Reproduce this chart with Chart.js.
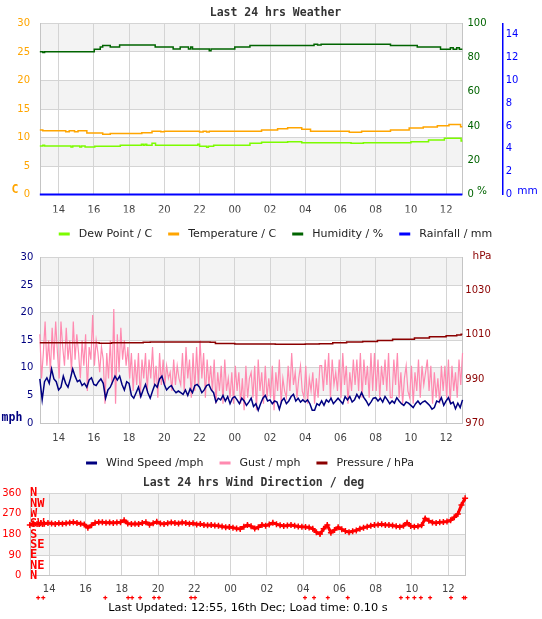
<!DOCTYPE html>
<html>
<head>
<meta charset="utf-8">
<title>Last 24 hrs Weather</title>
<script src="https://cdn.jsdelivr.net/npm/chart.js@4.4.1/dist/chart.umd.min.js"></script>
<style>
  html, body { margin: 0; padding: 0; background: #fff; }
  #page { position: relative; width: 542px; height: 619px; overflow: hidden; }
  canvas { position: absolute; left: 0; }
  #footer { position: absolute; top: 600px; left: 0; width: 496px; text-align: center;
            font: 11.3px "DejaVu Sans", sans-serif; color: #000; line-height: 16px; }
</style>
</head>
<body>
<div id="page">
  <canvas id="weatherChart" width="542" height="250" style="top:0"></canvas>
  <canvas id="windChart" width="542" height="234" style="top:245px"></canvas>
  <canvas id="dirChart" width="542" height="130" style="top:470px"></canvas>
  <div id="footer">Last Updated: 12:55, 16th Dec; Load time: 0.10 s</div>
</div>
<script>
// Times are hours from 00:00 on the 15th (24+ means the 16th)
const hourTicks = [14, 16, 18, 20, 22, 24, 26, 28, 30, 32, 34, 36];
const pressureTicks = [970, 990, 1010, 1030];
const compassLabels = ['N', 'NE', 'E', 'SE', 'S', 'SW', 'W', 'NW', 'N'];

// [time, value] - each value holds until the next point
const dewPoint = [[12.93,8.5],[13.1,8.63],[13.2,8.5],[14.7,8.33],[14.8,8.5],[15.2,8.33],[15.3,8.5],[15.5,8.33],
  [16.05,8.45],[17.5,8.63],[18.7,8.8],[18.8,8.63],[18.9,8.8],[19.0,8.63],[19.3,9.0],[19.5,8.63],[21.9,8.8],
  [22.0,8.45],[22.4,8.3],[22.5,8.45],[22.8,8.63],[24.86,9.0],[25.52,9.15],[27.0,9.26],[27.8,9.1],[30.6,9.0],
  [31.3,9.1],[34.0,9.26],[35.0,9.56],[35.9,9.86],[36.85,9.4],[36.92,9.4]];
const temperature = [[12.93,11.3],[13.1,11.2],[14.4,11.0],[14.6,11.2],[14.9,11.0],[15.1,11.2],[15.6,10.8],
  [16.5,10.55],[16.93,10.7],[18.72,10.85],[19.3,11.1],[19.8,11.0],[20.0,11.1],[22.0,10.95],[22.2,11.1],
  [22.4,10.95],[22.55,11.1],[25.52,11.3],[26.43,11.55],[27.0,11.7],[27.8,11.45],[28.3,11.1],[30.5,10.9],
  [31.2,11.1],[32.84,11.3],[33.9,11.65],[34.7,11.85],[35.5,12.07],[36.16,12.3],[36.82,11.9],[36.92,11.9]];
const humidity = [[12.93,83.5],[13.1,83.0],[13.2,83.5],[16.02,84.9],[16.36,86.3],[16.5,87.2],[16.93,86.3],
  [17.46,87.4],[19.48,86.2],[20.5,85.1],[20.9,86.2],[21.37,85.1],[21.5,86.2],[21.6,85.1],[22.55,84.0],
  [22.65,85.1],[24.0,86.3],[24.86,87.2],[28.5,87.8],[28.7,87.4],[28.9,87.8],[32.84,87.2],[34.36,86.3],
  [35.68,85.0],[36.24,85.8],[36.4,85.0],[36.6,85.8],[36.75,85.0],[36.92,85.0]];
const rainfall = [[12.93,0],[36.92,0]];

// average wind every 8 minutes from 12:56
const windStart = 12.93;
const windStepHrs = 8 / 60;
const windSpeed = [
  8.0,4.2,7.5,8.2,7.2,9.8,8.0,7.5,  6.0,6.5,8.5,7.2,6.5,8.0,9.8,8.5,  7.5,7.8,6.8,7.2,6.5,7.8,8.2,
  7.0,6.8,7.5,8.0,7.2,4.5,6.0,  6.5,7.5,8.5,7.8,8.5,7.0,6.0,7.5,  7.2,5.0,4.5,5.5,6.5,4.8,6.0,
  7.0,5.5,4.5,5.8,7.0,6.5,8.0,8.5,  7.0,6.0,6.5,6.8,6.0,5.5,5.8,  5.5,5.2,6.0,5.0,6.2,5.5,6.8,7.0,
  6.5,5.5,6.0,6.8,7.0,6.0,5.5,  3.8,4.5,4.2,5.0,4.0,4.8,3.5,4.5,  4.8,4.2,3.5,4.5,4.0,3.2,3.8,
  4.5,3.0,3.5,2.3,3.5,4.5,5.0,4.0,  4.2,3.5,4.0,3.8,2.5,4.0,4.5,  3.5,4.0,4.8,5.2,4.0,4.5,3.8,4.2,
  3.8,4.2,3.5,2.3,2.3,3.5,3.2,  4.0,3.2,4.2,3.8,4.5,3.5,4.0,4.5,  4.0,3.5,4.8,4.2,4.8,3.8,4.2,
  5.2,4.5,5.5,4.6,4.0,3.2,3.8,4.5,  4.6,4.0,4.5,3.8,4.8,4.2,3.5,  4.0,3.6,4.6,4.0,3.5,3.2,3.8,3.6,
  3.2,2.8,3.5,4.0,3.4,3.8,4.0,  3.6,3.2,2.5,2.8,4.0,3.8,4.6,3.2,  4.0,4.6,3.5,3.8,2.6,3.6,2.8,4.2];

// gusts every 6 minutes from 12:56 (one row per hour)
const gustStart = 12.93;
const gustStepHrs = 6 / 60;
const gust = [
  16.1,8.1,12.7,18.4,10.4,15.0,9.2,17.3,11.5,18.4,
  12.7,8.1,18.4,13.8,10.4,17.3,11.5,15.0,9.2,18.4,
  11.5,16.1,12.7,8.1,15.0,10.4,16.1,5.8,13.8,11.5,
  19.6,10.4,15.0,12.7,9.2,13.8,11.5,3.5,12.7,8.1,
  15.0,6.9,20.7,3.5,16.1,9.2,17.3,11.5,15.0,10.4,
  13.8,8.1,12.7,5.8,11.5,6.9,12.7,4.6,11.5,8.1,
  12.7,5.8,11.5,8.1,13.8,6.9,10.4,4.6,12.7,6.9,
  11.5,6.9,10.4,8.1,9.2,5.8,11.5,6.9,10.4,8.1,
  6.9,12.7,5.8,13.8,8.1,11.5,4.6,12.7,5.8,13.8,
  6.9,15.0,8.1,12.7,4.6,11.5,6.9,10.4,5.8,11.5,
  3.5,9.2,5.8,10.4,3.5,11.5,5.8,8.1,4.6,9.2,
  3.5,10.4,5.8,9.2,3.5,8.1,2.3,10.4,4.6,8.1,
  9.2,4.6,10.4,2.3,11.5,5.8,9.2,3.5,10.4,4.6,
  8.1,4.6,10.4,2.3,9.2,5.8,11.5,3.5,8.1,5.8,
  4.6,10.4,5.8,12.7,6.9,9.2,4.6,8.1,10.4,5.8,
  4.6,10.4,3.5,8.1,5.8,9.2,3.5,8.1,4.6,10.4,
  10.4,5.8,11.5,6.9,12.7,4.6,11.5,6.9,9.2,5.8,
  11.5,4.6,12.7,6.9,10.4,3.5,9.2,5.8,11.5,6.9,
  11.5,5.8,12.7,4.6,11.5,6.9,10.4,4.6,12.7,5.8,
  12.7,5.8,11.5,4.6,10.4,6.9,11.5,5.8,12.7,4.6,
  4.6,11.5,6.9,12.7,4.6,9.2,3.5,8.1,10.4,5.8,
  4.6,10.4,3.5,9.2,5.8,11.5,4.6,10.4,6.9,9.2,
  11.5,5.8,10.4,3.5,9.2,4.6,8.1,3.5,10.4,5.8,
  10.4,4.6,11.5,3.5,10.4,5.8,9.2,4.6,11.5,6.9,
  12.7];
const pressure = [[12.93,1006.4],[16.3,1006.2],[17.0,1006.4],[18.8,1006.6],[19.2,1006.8],[22.6,1006.6],
  [22.9,1006.1],[24.0,1005.9],[25.5,1005.8],[26.3,1005.7],[28.0,1005.8],[28.8,1006.0],[29.56,1006.4],
  [30.35,1006.7],[31.26,1007.0],[32.1,1007.4],[32.96,1008.0],[34.2,1008.6],[35.05,1009.1],[36.0,1009.6],
  [36.6,1009.9],[36.85,1010.3],[36.92,1010.3]];

// wind direction every 12 minutes from 12:56
const dirStart = 12.93;
const dirStepHrs = 12 / 60;
const windDir = [
  222,228,226,229,227, 230,228,226,229,227, 229,231,233,230,227, 224,210,220,231,233,
  234,231,232,230,232, 233,242,228,226,227, 226,230,233,223,229, 236,228,226,229,232,
  230,228,232,230,227, 229,224,226,221,220, 221,219,218,215,212, 213,210,206,204,214,
  222,216,206,212,222, 218,224,231,225,220, 217,219,221,218,215, 214,213,211,205,190,
  182,205,221,188,200, 212,203,195,190,194, 198,205,210,214,218, 221,223,225,222,221,
  219,216,214,218,231, 217,214,216,220,250, 240,232,230,234,235, 237,242,255,270,309,338];
// calm readings, drawn under the axis
const calmTimes = [13.39,13.67,17.09,18.35,18.57,19.01,19.78,20.05,21.82,22.04,28.1,28.6,29.36,30.46,
  33.39,33.76,34.13,34.49,35.0,36.15,36.85,36.94];
const calmDir = -96;

const FONT = 'DejaVu Sans';
const MONO = 'DejaVu Sans Mono';
const GRID = '#d4d4d4';
const FRAME = '#c4c4c4';
const BAND = '#f3f3f3';
const tickFont = { family: FONT, size: 10 };
const titleFont = { family: MONO, size: 11.5, weight: 'bold' };

Chart.defaults.font.family = FONT;

const pad2 = v => String(v % 24).padStart(2, '0');
const toXY = pts => pts.map(([x, y]) => ({ x, y }));
const onGrid = (start, step, vals) => vals.map((y, i) => ({ x: start + i * step, y }));

// alternate grey bands between the ticks of one axis
const bandsPlugin = {
    id: 'bands',
    beforeDraw(chart, args, opts) {
        const s = chart.scales[opts.axis];
        if (!s) return;
        const a = chart.chartArea, ctx = chart.ctx;
        const vals = s.ticks.map(t => t.value).sort((p, q) => q - p);
        ctx.save();
        ctx.fillStyle = opts.color;
        for (let i = 0; i + 1 < vals.length; i += 2) {
            const y1 = s.getPixelForValue(vals[i]);
            const y2 = s.getPixelForValue(vals[i + 1]);
            ctx.fillRect(a.left, y1, a.right - a.left, y2 - y1);
        }
        ctx.restore();
    }
};

// unit captions beside the axes
const unitsPlugin = {
    id: 'units',
    afterDraw(chart, args, opts) {
        const ctx = chart.ctx;
        ctx.save();
        ctx.textBaseline = 'middle';
        (opts.items || []).forEach(u => {
            ctx.font = u.font;
            ctx.fillStyle = u.color;
            ctx.textAlign = 'center';
            ctx.fillText(u.text, u.x, u.y);
        });
        ctx.restore();
    }
};
Chart.register(bandsPlugin, unitsPlugin);

function timeAxis(min, max, padding, height) {
    return {
        type: 'linear', min, max,
        afterBuildTicks: s => { s.ticks = hourTicks.map(v => ({ value: v })); },
        afterFit: s => { s.height = height; },
        ticks: { callback: pad2, color: '#444', font: tickFont, padding, autoSkip: false, maxRotation: 0 },
        grid: { color: GRID, drawTicks: false },
        border: { color: FRAME }
    };
}

function legendOpts() {
    return {
        position: 'bottom',
        labels: {
            boxWidth: 11, boxHeight: 3, padding: 16, color: '#222', font: { family: FONT, size: 11 },
            generateLabels: chart => Chart.defaults.plugins.legend.labels.generateLabels(chart)
                .map(l => Object.assign(l, { text: ' ' + l.text, lineWidth: 0, fillStyle: l.strokeStyle }))
                .sort((a, b) => a.datasetIndex - b.datasetIndex)
        }
    };
}

function series(label, data, color, axis, extra) {
    return Object.assign({
        label, data, yAxisID: axis,
        borderColor: color, backgroundColor: color,
        borderWidth: 1.5, pointRadius: 0, tension: 0, clip: 3
    }, extra || {});
}

// 1. Temperature / humidity / rain
new Chart(document.getElementById('weatherChart'), {
    type: 'line',
    data: {
        datasets: [
            series('Dew Point / C', toXY(dewPoint), '#7cfc00', 'yT', { stepped: true }),
            series('Temperature / C', toXY(temperature), '#ffa500', 'yT', { stepped: true }),
            series('Humidity / %', toXY(humidity), '#006400', 'yH', { stepped: true }),
            series('Rainfall / mm', toXY(rainfall), '#0000ff', 'yR', { borderWidth: 2 })
        ]
    },
    options: {
        responsive: false, animation: false, events: [],
        layout: { padding: { left: 9, right: 0, top: 0, bottom: 0.5 } },
        scales: {
            x: timeAxis(12.94, 36.9, 9.5, 18),
            yT: {
                position: 'left', min: 0, max: 30,
                ticks: { stepSize: 5, color: '#ffa500', font: tickFont, padding: 10 },
                grid: { color: GRID, drawTicks: false }, border: { color: FRAME },
                afterFit: s => { s.width = 31; }
            },
            yH: {
                position: 'right', min: 0, max: 100,
                ticks: { stepSize: 20, color: '#006400', font: tickFont, padding: 5.5 },
                grid: { drawOnChartArea: false, drawTicks: false }, border: { color: FRAME },
                afterFit: s => { s.width = 40.7; }
            },
            yR: {
                position: 'right', min: 0, max: 15,
                ticks: { stepSize: 2, color: '#0000ff', font: tickFont, padding: 3, callback: v => (v % 2 ? '' : v) },
                grid: { drawOnChartArea: false, drawTicks: false }, border: { color: '#0000ff', width: 1.5 },
                afterFit: s => { s.width = 39.3; }
            }
        },
        plugins: {
            title: { display: true, text: 'Last 24 hrs Weather', color: '#333', font: titleFont, padding: { top: 6.3, bottom: 3.4 } },
            legend: legendOpts(),
            tooltip: { enabled: false },
            bands: { axis: 'yT', color: BAND },
            units: {
                items: [
                    { text: 'C', x: 15, y: 190, color: '#ffa500', font: 'bold 11.5px "DejaVu Sans Mono"' },
                    { text: '%', x: 482, y: 191, color: '#006400', font: '10.5px "DejaVu Sans"' },
                    { text: 'mm', x: 527.5, y: 191, color: '#0000ff', font: '10.5px "DejaVu Sans"' }
                ]
            }
        }
    }
});

// 2. Wind speed / gust / pressure
new Chart(document.getElementById('windChart'), {
    type: 'line',
    data: {
        datasets: [
            series('Wind Speed /mph', onGrid(windStart, windStepHrs, windSpeed), '#000080', 'yW', { order: 1 }),
            series('Gust / mph', onGrid(gustStart, gustStepHrs, gust), '#ff8ab0', 'yW', { order: 3, borderWidth: 1.2 }),
            series('Pressure / hPa', toXY(pressure), '#8b0000', 'yP', { order: 2, stepped: true })
        ]
    },
    options: {
        responsive: false, animation: false, events: [],
        layout: { padding: { left: 0, right: 42, top: 6.7, bottom: 0.5 } },
        scales: {
            x: timeAxis(12.94, 36.9, 9, 18.5),
            yW: {
                position: 'left', min: 0, max: 30,
                ticks: { stepSize: 5, color: '#000080', font: tickFont, padding: 6.7 },
                grid: { color: GRID, drawTicks: false }, border: { color: FRAME },
                afterFit: s => { s.width = 40; }
            },
            yP: {
                position: 'right', min: 970, max: 1045,
                afterBuildTicks: s => { s.ticks = pressureTicks.map(v => ({ value: v })); },
                ticks: { color: '#8b0000', font: tickFont, padding: 3.3, autoSkip: false, callback: v => String(v) },
                grid: { drawOnChartArea: false, drawTicks: false }, border: { color: FRAME },
                afterFit: s => { s.width = 38; }
            }
        },
        plugins: {
            legend: legendOpts(),
            tooltip: { enabled: false },
            bands: { axis: 'yW', color: BAND },
            units: {
                items: [
                    { text: 'mph', x: 12, y: 173, color: '#000080', font: 'bold 11.5px "DejaVu Sans Mono"' },
                    { text: 'hPa', x: 482, y: 11.7, color: '#8b0000', font: '10.5px "DejaVu Sans"' }
                ]
            }
        }
    }
});

// 3. Wind direction
const calmMarks = {
    id: 'calmMarks',
    afterDatasetsDraw(chart) {
        const { ctx, scales: { x, yDeg } } = chart;
        const y = yDeg.getPixelForValue(calmDir);
        ctx.save();
        ctx.strokeStyle = '#ff0000';
        ctx.lineWidth = 1.2;
        calmTimes.forEach(t => {
            const px = x.getPixelForValue(t);
            ctx.beginPath();
            ctx.moveTo(px - 2, y); ctx.lineTo(px + 2, y);
            ctx.moveTo(px, y - 2); ctx.lineTo(px, y + 2);
            ctx.stroke();
        });
        ctx.restore();
    }
};

new Chart(document.getElementById('dirChart'), {
    type: 'line',
    data: {
        datasets: [{
            label: 'Wind Direction / deg',
            data: onGrid(dirStart, dirStepHrs, windDir),
            yAxisID: 'yDeg',
            borderColor: '#ff0000', backgroundColor: '#ff0000', borderWidth: 3, tension: 0,
            pointStyle: 'cross', pointRadius: 3, pointBorderWidth: 1.5, pointBorderColor: '#ff0000',
            clip: 4
        }]
    },
    options: {
        responsive: false, animation: false, events: [],
        layout: { padding: { left: 0, right: 35, top: 0, bottom: 0 } },
        scales: {
            x: timeAxis(12.94, 36.94, 7.3, 24.3),
            yDir: {
                position: 'left', min: 0, max: 360,
                ticks: { stepSize: 45, mirror: true, padding: 0, color: '#ff0000', autoSkip: false,
                         font: { family: MONO, size: 12, weight: 'bold' }, callback: v => compassLabels[v / 45] },
                grid: { display: false }, border: { display: false },
                afterFit: s => { s.width = 0; }
            },
            yDeg: {
                position: 'left', min: 0, max: 360,
                ticks: { stepSize: 90, color: '#ff0000', font: tickFont, padding: 8.7, autoSkip: false },
                grid: { color: GRID, drawTicks: false }, border: { color: FRAME },
                afterFit: s => { s.width = 30; }
            },
            yRight: {
                position: 'right', min: 0, max: 360,
                ticks: { display: false },
                grid: { drawOnChartArea: false, drawTicks: false }, border: { color: FRAME },
                afterFit: s => { s.width = 41.7; }
            }
        },
        plugins: {
            title: { display: true, text: 'Last 24 hrs Wind Direction / deg', color: '#333', font: titleFont, padding: { top: 6.3, bottom: 3.2 } },
            legend: { display: false },
            tooltip: { enabled: false },
            bands: { axis: 'yDeg', color: BAND }
        }
    },
    plugins: [calmMarks]
});
</script>
</body>
</html>
